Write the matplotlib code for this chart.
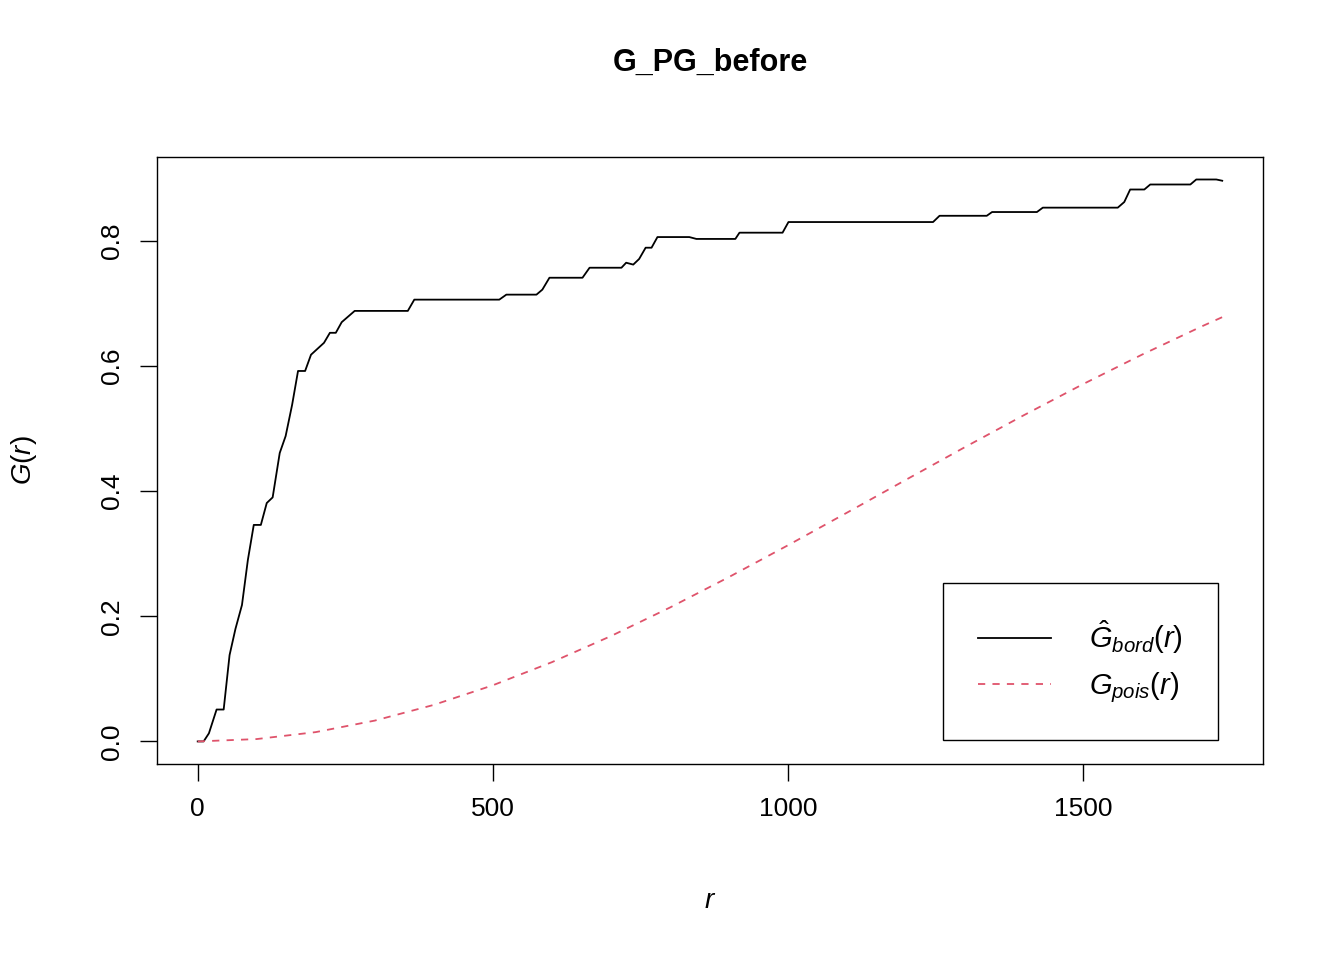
import matplotlib
matplotlib.use("Agg")
import matplotlib.pyplot as plt

plt.rcParams['font.family'] = ['Liberation Sans', 'DejaVu Sans']
plt.rcParams['mathtext.fontset'] = 'custom'
plt.rcParams['mathtext.it'] = 'Liberation Sans:italic'
plt.rcParams['mathtext.rm'] = 'Liberation Sans'

r_emp = [0, 10, 19, 32, 44, 54, 64, 75, 85, 95, 107, 117, 127, 139, 149, 160, 170,
         182, 192, 214, 224, 234, 244, 266, 356, 367, 511, 523, 574, 584, 596, 652,
         664, 718, 726, 738, 748, 759, 769, 779, 833, 845, 911, 918, 991, 1001, 1246,
         1257, 1337, 1346, 1422, 1432, 1559, 1570, 1580, 1604, 1614, 1682, 1692, 1726, 1736]
g_emp = [0, 0, 0.013, 0.051, 0.051, 0.138, 0.18, 0.218, 0.29, 0.346, 0.346, 0.381, 0.39,
         0.461, 0.488, 0.538, 0.592, 0.592, 0.618, 0.637, 0.653, 0.653, 0.670, 0.688,
         0.688, 0.706, 0.706, 0.714, 0.714, 0.722, 0.741, 0.741, 0.757, 0.757, 0.765,
         0.762, 0.771, 0.789, 0.789, 0.806, 0.806, 0.803, 0.803, 0.813, 0.813, 0.830,
         0.830, 0.840, 0.840, 0.846, 0.846, 0.853, 0.853, 0.862, 0.882, 0.882, 0.890,
         0.890, 0.898, 0.898, 0.896]

# theoretical Poisson curve
r_pois = [0, 100, 200, 300, 400, 500, 600, 700, 800, 900, 1000, 1100, 1200, 1300,
          1400, 1500, 1600, 1700, 1736]
g_pois = [0, 0.0038, 0.0149, 0.0333, 0.0584, 0.0897, 0.1266, 0.1683, 0.2139, 0.2626,
          0.3134, 0.3655, 0.4181, 0.4703, 0.5214, 0.5709, 0.6181, 0.6627, 0.678]

fig = plt.figure(figsize=(13.44, 9.6), dpi=100)
ax = fig.add_axes([0.1168, 0.2042, 0.8229, 0.6323])

ax.plot(r_emp, g_emp, color='black', lw=1.3, label=r'$\hat{G}_{bord}(r)$')
ax.plot(r_pois, g_pois, color='#DF536B', lw=1.3, ls=(0, (4, 4)), label=r'$G_{pois}(r)$')

ax.set_xlim(-69, 1805)
ax.set_ylim(-0.036, 0.934)
ax.set_xticks([0, 500, 1000, 1500])
ax.set_yticks([0, 0.2, 0.4, 0.6, 0.8])
ax.set_yticklabels(['0.0', '0.2', '0.4', '0.6', '0.8'], rotation=90, va='center')
ax.tick_params(labelsize=19, length=12, width=1, pad=12)
for s in ax.spines.values():
    s.set_linewidth(1)

ax.set_xlabel(r'$r$', fontsize=20, labelpad=48)
ax.set_ylabel(r'$G(r)$', fontsize=20, labelpad=44)
ax.set_title('G_PG_before', fontsize=22, fontweight='bold', pad=62)

leg = ax.legend(loc='lower right', bbox_to_anchor=(0.9593, 0.0395), fontsize=21,
                fancybox=False, edgecolor='black', framealpha=1, handlelength=2.5,
                borderpad=1.2, labelspacing=0.5, handletextpad=1.3, borderaxespad=0)
leg.get_frame().set_linewidth(1)

fig.savefig('out.png', dpi=100)
